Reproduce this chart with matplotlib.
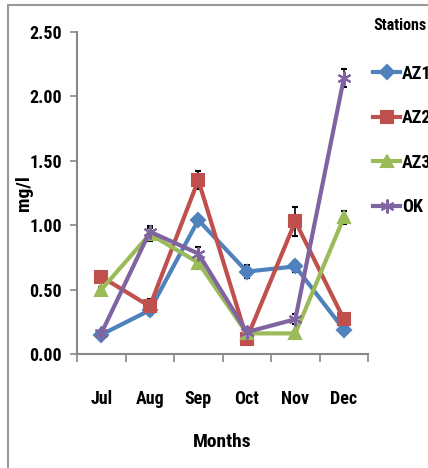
import matplotlib.pyplot as plt
import matplotlib.patches as patches
from matplotlib.lines import Line2D
import numpy as np

months = ["Jul", "Aug", "Sep", "Oct", "Nov", "Dec"]
stations = ["AZ1", "AZ2", "AZ3", "OK"]

az1 = [0.15, 0.34, 1.04, 0.64, 0.68, 0.19]
az2 = [0.60, 0.37, 1.35, 0.12, 1.03, 0.27]
az3 = [0.50, 0.93, 0.71, 0.16, 0.16, 1.06]
ok = [0.16, 0.95, 0.78, 0.17, 0.27, 2.14]

az1_err = [0.02, 0.04, 0.03, 0.05, 0.04, 0.02]
az2_err = [0.03, 0.06, 0.07, 0.03, 0.11, 0.02]
az3_err = [0.02, 0.05, 0.05, 0.02, 0.02, 0.05]
ok_err = [0.02, 0.04, 0.05, 0.03, 0.04, 0.07]

series = [az1, az2, az3, ok]
errors = [az1_err, az2_err, az3_err, ok_err]
colors = ["#4F81BD", "#C0504D", "#9BBB59", "#8064A2"]
markers = ["D", "s", "^", (6, 2, 0)]
msizes = [7, 9, 9, 10]

plt.rcParams["font.family"] = ["Roboto Condensed", "Liberation Sans Narrow", "Lato", "DejaVu Sans"]
plt.rcParams["font.weight"] = "bold"

fig = plt.figure(figsize=(4.28, 4.68), dpi=100)
ax = fig.add_axes([0.18, 0.2436, 0.68, 0.688])

x = np.arange(len(months))
handles = []
for vals, err, c, m, ms, name in zip(series, errors, colors, markers, msizes, stations):
    ax.errorbar(x, vals, yerr=err, color=c, ecolor="black", elinewidth=1.2, capsize=2.5,
                capthick=1.2, lw=3, marker=m, markersize=ms, mec=c, mfc=c, mew=1.5)
    handles.append(Line2D([], [], color=c, lw=3, marker=m, markersize=ms, mec=c, mfc=c,
                          mew=1.5, label=name))

ax.set_xlim(-0.5, 5.5)
ax.set_ylim(0, 2.5)
ax.set_yticks(np.arange(0, 2.51, 0.5))
ax.set_yticklabels([f"{v:.2f}" for v in np.arange(0, 2.51, 0.5)], fontsize=13, fontweight="bold")
ax.set_xticks(x)
ax.set_xticklabels(months, fontsize=13, fontweight="bold")
ax.set_xticks(np.arange(-0.5, 5.6, 1), minor=True)
ax.tick_params(axis="x", which="major", length=0, pad=26)
ax.tick_params(axis="x", which="minor", length=6, color="#888888", width=1.2)
ax.tick_params(axis="y", length=5, color="#888888", width=1.2, pad=6)
for s in ["top", "right"]:
    ax.spines[s].set_visible(False)
for s in ["left", "bottom"]:
    ax.spines[s].set_color("#888888")
    ax.spines[s].set_linewidth(1.5)

ax.set_xlabel("Months", fontsize=14, fontweight="bold", labelpad=18)
ax.set_ylabel("mg/l", fontsize=14, fontweight="bold")
ax.yaxis.set_label_coords(-0.15, 0.5)

leg = fig.legend(handles=handles, loc="upper left", bbox_to_anchor=(0.872, 0.962),
                 frameon=False, title="Stations", handlelength=1.5, handletextpad=0.1,
                 labelspacing=1.47, borderaxespad=0, borderpad=0,
                 prop={"weight": "bold", "size": 13},
                 title_fontproperties={"weight": "bold", "size": 11.5})
leg._legend_box.align = "left"
leg._legend_box.sep = 23

border = patches.Rectangle((8 / 428, -0.1), 1.2, 1 - 5 / 468 + 0.1, transform=fig.transFigure,
                           fill=False, edgecolor="#999999", lw=1.5)
fig.patches.append(border)

fig.savefig("out.png", dpi=100)
